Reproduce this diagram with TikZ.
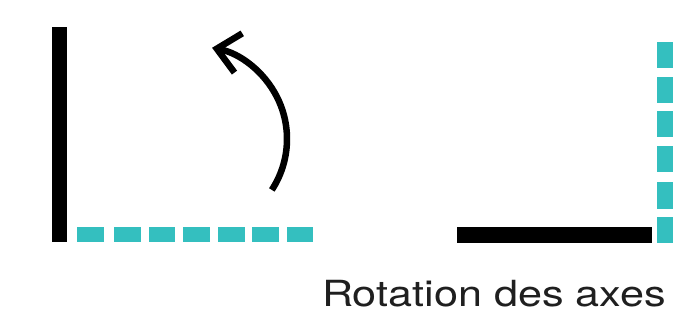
\documentclass[tikz,border=0pt]{standalone}
\usepackage{fontspec}
\setmainfont{TeX Gyre Heros}
\usetikzlibrary{arrows.meta}
\definecolor{axcyan}{RGB}{52,191,191}
\begin{document}
\begin{tikzpicture}[x=1pt,y=-1pt,
  blackbar/.style={fill=black,draw=none},
  cyanbar/.style={fill=axcyan,draw=none},
  rotarrow/.style={draw=black,line width=6.5pt,-{Straight Barb[length=22pt,width=40pt]}}]
\useasboundingbox (0,0) rectangle (673,334);
% left axes
\fill[blackbar] (52,27) rectangle (67,242);
\foreach \a/\b in {77/104,114/141,149/175,183/210,218/245,252/279,287/313}
  \fill[cyanbar] (\a,227) rectangle (\b,242);
% rotation arrow
\coordinate (c) at (194,139);
\draw[rotarrow] (c) ++(33.2:93) arc[start angle=33.2,end angle=-78.8,radius=93];
% right axes
\fill[blackbar] (457,227) rectangle (652,243);
\foreach \a/\b in {42/68,77/103,111/137,146/172,182/209,217/243}
  \fill[cyanbar] (657,\a) rectangle (673,\b);
% label
\node[anchor=base east,inner sep=0pt,text=black!88] (lbl) at (666,307)
  {\scalebox{1.2}[1]{\fontsize{36pt}{42pt}\selectfont Rotation des axes}};
\end{tikzpicture}
\end{document}
